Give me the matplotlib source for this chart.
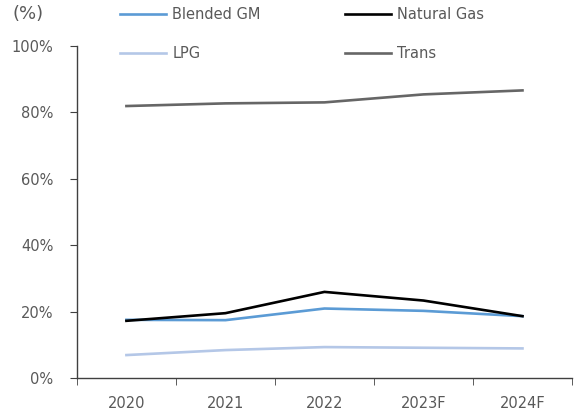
import matplotlib
matplotlib.use('Agg')
import matplotlib.pyplot as plt
from matplotlib.ticker import FixedLocator, FuncFormatter

years = ['2020', '2021', '2022', '2023F', '2024F']
blended_gm = [17.5, 17.4, 20.9, 20.2, 18.6]
natural_gas = [17.2, 19.5, 25.9, 23.3, 18.6]
lpg = [6.9, 8.4, 9.3, 9.1, 8.9]
trans = [81.8, 82.6, 82.9, 85.3, 86.5]

txt = '#595959'
plt.rcParams['font.family'] = ['DejaVu Sans']
plt.rcParams['font.size'] = 10.5

fig = plt.figure(figsize=(5.74, 4.12), dpi=100)
ax = fig.add_axes([0.134, 0.0825, 0.8625, 0.807])

x = list(range(len(years)))
l1, = ax.plot(x, blended_gm, color='#5B9BD5', lw=1.9)
l2, = ax.plot(x, natural_gas, color='#000000', lw=1.9)
l3, = ax.plot(x, lpg, color='#B4C7E7', lw=1.9)
l4, = ax.plot(x, trans, color='#666666', lw=1.9)

ax.set_xlim(-0.5, len(years) - 0.5)
ax.set_ylim(0, 100)
ax.set_yticks([0, 20, 40, 60, 80, 100])
ax.yaxis.set_major_formatter(FuncFormatter(lambda v, p: '%d%%' % v))
ax.set_xticks(x)
ax.set_xticklabels(years)
ax.xaxis.set_minor_locator(FixedLocator([i - 0.5 for i in range(len(years) + 1)]))
ax.tick_params(axis='x', which='major', length=0, pad=13, colors=txt, labelsize=10.5)
ax.tick_params(axis='x', which='minor', length=5, color='#404040')
ax.tick_params(axis='y', length=5, color='#404040', labelcolor=txt, pad=12)

for s in ['top', 'right']:
    ax.spines[s].set_visible(False)
for s in ['left', 'bottom']:
    ax.spines[s].set_color('#404040')
    ax.spines[s].set_linewidth(1.0)

fig.text(0.022, 0.965, '(%)', color=txt, fontsize=13, va='center')

opts = dict(frameon=False, loc='upper left', handlelength=3.1, handletextpad=0.45,
            labelspacing=1.6, labelcolor=txt, fontsize=10.5, borderpad=0)
fig.legend([l1, l3], ['Blended GM', 'LPG'], bbox_to_anchor=(0.197, 1.0), **opts)
fig.legend([l2, l4], ['Natural Gas', 'Trans'], bbox_to_anchor=(0.589, 1.0), **opts)

plt.savefig('out.png', dpi=100)
